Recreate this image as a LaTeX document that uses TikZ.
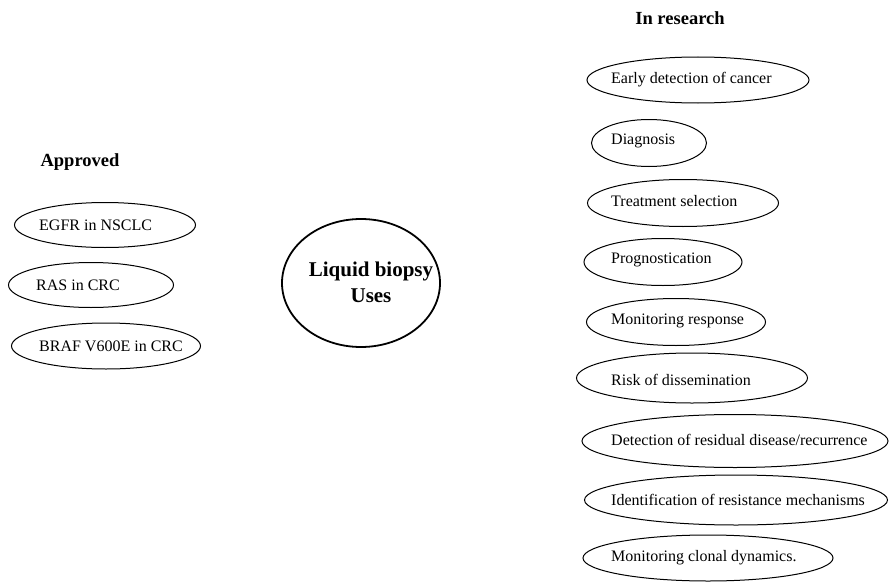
\documentclass[tikz,border=0pt]{standalone}
\usepackage{fontspec}
\setmainfont{Liberation Serif}
\usepackage{tikz}
\usetikzlibrary{shapes}

\begin{document}
\begin{tikzpicture}[x=1pt, y=-1pt,
				oval/.style={draw, ellipse, inner sep=0pt, line width=1pt},
				usetext/.style={anchor=west, inner sep=0pt, font=\fontsize{16}{19}\selectfont},
				heading/.style={inner sep=0pt, font=\fontsize{18.5}{22}\selectfont\bfseries}]
				\useasboundingbox (0,0) rectangle (889,586);
				% centre
				\node[oval, line width=1.8pt, minimum width=158pt, minimum height=128pt](node0) at (361, 283) {};
				\node[align=center, inner sep=0pt, font=\fontsize{21}{26}\selectfont\bfseries](node0t) at (371, 282) {Liquid biopsy\\Uses};
				
				% approved uses
				\node[heading](node1h) at (80, 162) {Approved};
				\node[oval, minimum width=181pt, minimum height=45pt](node1) at (105, 225) {};
				\node[oval, minimum width=165pt, minimum height=45pt](node2) at (91, 285) {};
				\node[oval, minimum width=189pt, minimum height=46pt](node3) at (106, 346) {};
				\node[usetext](node1t) at ([xshift=25pt]node1.west) {EGFR in NSCLC};
				\node[usetext](node2t) at ([xshift=28pt]node2.west) {RAS in CRC};
				\node[usetext](node3t) at ([xshift=28pt]node3.west) {BRAF V600E in CRC};
				
				% uses in research
				\node[heading](node11h) at (680, 18) {In research};
				\node[oval, minimum width=222pt, minimum height=46pt](node11) at (698, 80) {};
				\node[oval, minimum width=115pt, minimum height=47pt](node12) at (649, 143) {};
				\node[oval, minimum width=191pt, minimum height=47pt](node13) at (683, 203) {};
				\node[oval, minimum width=158pt, minimum height=47pt](node14) at (663, 262) {};
				\node[oval, minimum width=179pt, minimum height=47pt](node15) at (676, 322) {};
				\node[oval, minimum width=231pt, minimum height=50pt](node16) at (692, 378) {};
				\node[oval, minimum width=306pt, minimum height=53pt](node17) at (735, 441) {};
				\node[oval, minimum width=303pt, minimum height=50pt](node18) at (736, 500) {};
				\node[oval, minimum width=250pt, minimum height=46pt](node19) at (708, 558) {};
				
				\node[usetext](node11t) at (611, 80) {Early detection of cancer};
				\node[usetext](node12t) at (611, 141) {Diagnosis};
				\node[usetext](node13t) at (611, 201) {Treatment selection};
				\node[usetext](node14t) at (611, 260) {Prognostication};
				\node[usetext](node15t) at (611, 321) {Monitoring response};
				\node[usetext](node16t) at (611, 380) {Risk of dissemination};
				\node[usetext](node17t) at (611, 440) {Detection of residual disease/recurrence};
				\node[usetext](node18t) at (611, 500) {Identification of resistance mechanisms};
				\node[usetext](node19t) at (611, 558) {Monitoring clonal dynamics.};
			\end{tikzpicture}
\end{document}
